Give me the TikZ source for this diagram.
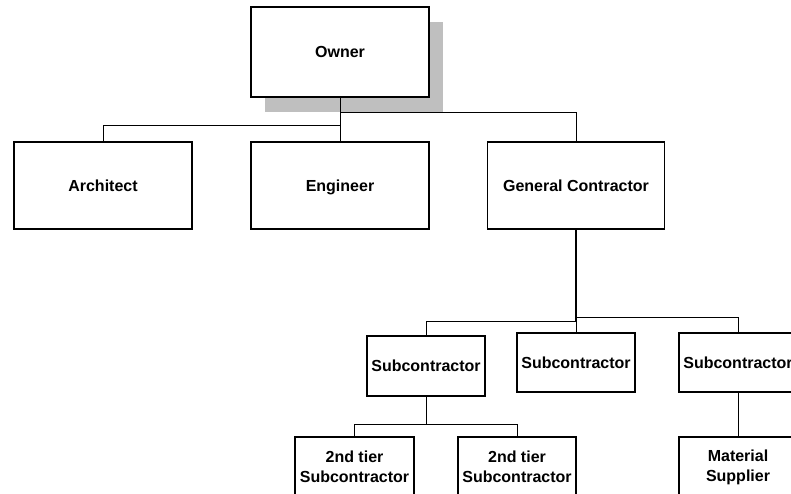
\documentclass[tikz,border=0pt]{standalone}
\usepackage{fontspec}
\setmainfont{Liberation Sans}
\begin{document}
\begin{tikzpicture}[x=1pt,y=1pt,
  box/.style={draw=black,fill=white,line width=1.1pt,inner sep=0pt,align=center,
    font=\fontsize{16}{20}\selectfont\bfseries},
  oneline/.style={text height=11.6pt,text depth=0pt},
  link/.style={draw=black,line width=1pt},
  stemline/.style={draw=black,line width=2pt}]
\useasboundingbox (0,0) rectangle (791,-494);
\clip (0,0) rectangle (791,-494);
% drop shadow behind the top box
\fill[black!25] (265,-22) rectangle (443,-112);
% top level
\node[box,oneline,minimum width=178,minimum height=90] (owner) at (340,-52) {Owner};
% second level
\node[box,oneline,minimum width=178,minimum height=87] (arch) at (103,-185.5) {Architect};
\node[box,oneline,minimum width=178,minimum height=87] (eng) at (340,-185.5) {Engineer};
\node[box,oneline,minimum width=177,minimum height=87] (gc) at (576,-185.5) {General Contractor};
% subcontractors
\node[box,oneline,minimum width=118,minimum height=60] (sub1) at (426,-366) {Subcontractor};
\node[box,oneline,minimum width=118,minimum height=59] (sub2) at (576,-362.5) {Subcontractor};
\node[box,oneline,minimum width=118,minimum height=59] (sub3) at (738,-362.5) {Subcontractor};
% bottom level
\node[box,minimum width=119,minimum height=60] (tier1) at (354.5,-467) {2nd tier\\Subcontractor};
\node[box,minimum width=118,minimum height=60] (tier2) at (517,-467) {2nd tier\\Subcontractor};
\node[box,minimum width=118,minimum height=60] (mat) at (738,-467) {Material\\Supplier};
% connectors
\draw[link] (owner.south) -- (eng.north);
\draw[link] (owner.south) ++(0,-15) -| (gc.north);
\draw[link] (eng.north) ++(0,16) -| (arch.north);
\draw[stemline] (gc.south) -- ++(0,-92) coordinate (gcj);
\draw[link] (gcj) -| (sub1.north);
\draw[link] (sub2.north) -- ++(0,15) -| (sub3.north);
\draw[link] (sub1.south) -- ++(0,-28) coordinate (s1j) -| (tier1.north);
\draw[link] (s1j) -| (tier2.north);
\draw[link] (sub3.south) -- (mat.north);
\end{tikzpicture}
\end{document}
